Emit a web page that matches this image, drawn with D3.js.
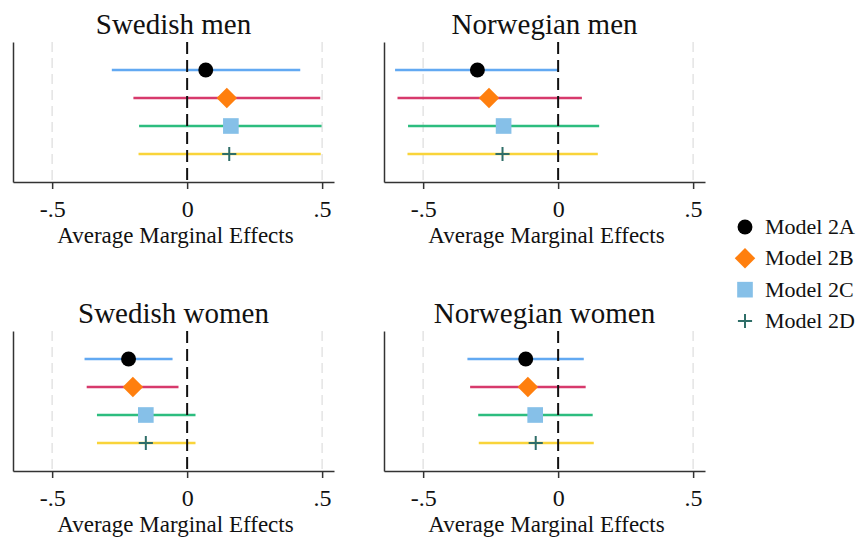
<!DOCTYPE html>
<html>
<head>
<meta charset="utf-8">
<script src="https://cdn.jsdelivr.net/npm/d3@7"></script>
<style>
  body { margin: 0; background: #fff; }
  text { font-family: "Liberation Serif", "Times New Roman", serif; fill: #111; }
</style>
</head>
<body>
<svg width="858" height="538"></svg>
<script>
// Panels, models and the average marginal effects.
var panels = ["Swedish men", "Norwegian men", "Swedish women", "Norwegian women"];
var models = ["Model 2A", "Model 2B", "Model 2C", "Model 2D"];

var swedishMenEst   = [0.069, 0.147, 0.162, 0.156];
var swedishMenLo    = [-0.279, -0.199, -0.178, -0.180];
var swedishMenHi    = [0.419, 0.493, 0.498, 0.495];

var norwegianMenEst = [-0.299, -0.256, -0.202, -0.206];
var norwegianMenLo  = [-0.604, -0.595, -0.556, -0.558];
var norwegianMenHi  = [0.000, 0.088, 0.152, 0.147];

var swedishWomenEst = [-0.217, -0.201, -0.153, -0.153];
var swedishWomenLo  = [-0.380, -0.372, -0.334, -0.334];
var swedishWomenHi  = [-0.054, -0.032, 0.031, 0.031];

var norwegianWomenEst = [-0.120, -0.112, -0.085, -0.083];
var norwegianWomenLo  = [-0.336, -0.326, -0.296, -0.294];
var norwegianWomenHi  = [0.095, 0.102, 0.128, 0.132];

var xTicks = [-0.5, 0, 0.5];
var xTickLabels = ["-.5", "0", ".5"];

var panelData = [
  [swedishMenEst, swedishMenLo, swedishMenHi],
  [norwegianMenEst, norwegianMenLo, norwegianMenHi],
  [swedishWomenEst, swedishWomenLo, swedishWomenHi],
  [norwegianWomenEst, norwegianWomenLo, norwegianWomenHi]
];

var lineColors   = ["#62a9f2", "#d73a6c", "#2dbd7f", "#f9d43a"];
var markerColors = ["#000000", "#ff7f0e", "#86c0e8", "#2f6e68"];

var svg = d3.select("svg");

// plus drawn as thin strokes, like Stata's "+"
var plusType = {
  draw: function(ctx, size) {
    var r = Math.sqrt(size) / 2;
    ctx.moveTo(-r, 0); ctx.lineTo(r, 0);
    ctx.moveTo(0, -r); ctx.lineTo(0, r);
  }
};

function drawMarker(sel, i) {
  if (i === 0) {
    sel.append("path").attr("d", d3.symbol(d3.symbolCircle, 175)())
      .attr("fill", markerColors[0]);
  } else if (i === 1) {
    sel.append("path").attr("d", d3.symbol(d3.symbolSquare, 210)())
      .attr("transform", "rotate(45)")
      .attr("fill", markerColors[1]);
  } else if (i === 2) {
    sel.append("path").attr("d", d3.symbol(d3.symbolSquare, 245)())
      .attr("fill", markerColors[2]);
  } else {
    sel.append("path").attr("d", d3.symbol(plusType, 200)())
      .attr("fill", "none")
      .attr("stroke", markerColors[3])
      .attr("stroke-width", 2);
  }
}

// panel frames
var panelW = 321, plotTop = [42, 331], plotH = 140;
var panelX = [13, 384];

panels.forEach(function(title, p) {
  var col = p % 2, row = Math.floor(p / 2);
  var g = svg.append("g")
      .attr("transform", "translate(" + panelX[col] + "," + plotTop[row] + ")");

  var x = d3.scaleLinear().domain([-0.645, 0.544]).range([0, panelW]);
  var y = d3.scaleLinear().domain([0, 5]).range([0, plotH]);

  var est = panelData[p][0], lo = panelData[p][1], hi = panelData[p][2];

  // title
  g.append("text")
      .attr("x", panelW / 2)
      .attr("y", -8)
      .attr("text-anchor", "middle")
      .style("font-size", "29px")
      .text(title);

  // light grid at -.5 and .5
  g.selectAll(".grid")
      .data([-0.5, 0.5])
      .enter().append("line")
      .attr("x1", function(d) { return x(d); })
      .attr("x2", function(d) { return x(d); })
      .attr("y1", 0)
      .attr("y2", plotH)
      .attr("stroke", "#e4e4e4")
      .attr("stroke-width", 1.5)
      .attr("stroke-dasharray", "10,6");

  // confidence intervals
  g.selectAll(".ci")
      .data(models)
      .enter().append("line")
      .attr("x1", function(d, i) { return x(lo[i]); })
      .attr("x2", function(d, i) { return x(hi[i]); })
      .attr("y1", function(d, i) { return y(i + 1); })
      .attr("y2", function(d, i) { return y(i + 1); })
      .attr("stroke", function(d, i) { return lineColors[i]; })
      .attr("stroke-width", 2.4);

  // zero reference line
  g.append("line")
      .attr("x1", x(0)).attr("x2", x(0))
      .attr("y1", 0).attr("y2", plotH)
      .attr("stroke", "#111")
      .attr("stroke-width", 2)
      .attr("stroke-dasharray", "12,6");

  // point estimates
  models.forEach(function(m, i) {
    var mg = g.append("g")
        .attr("transform", "translate(" + x(est[i]) + "," + y(i + 1) + ")");
    drawMarker(mg, i);
  });

  // axes
  var xAxis = g.append("g")
      .attr("transform", "translate(0," + plotH + ")")
      .call(d3.axisBottom(x)
          .tickValues(xTicks)
          .tickFormat(function(d, i) { return xTickLabels[i]; })
          .tickSize(7)
          .tickSizeOuter(0)
          .tickPadding(11));
  xAxis.select(".domain").attr("stroke", "#333").attr("stroke-width", 1.5);
  xAxis.selectAll(".tick line").attr("stroke", "#333").attr("stroke-width", 1.5);
  xAxis.selectAll(".tick text")
      .style("font-size", "24px")
      .style("font-family", "Liberation Serif, serif")
      .attr("fill", "#111");

  var yAxis = g.append("g")
      .call(d3.axisLeft(y).tickValues([]).tickSizeOuter(0));
  yAxis.select(".domain").attr("stroke", "#333").attr("stroke-width", 1.5);

  g.append("text")
      .attr("x", panelW / 2 + 2)
      .attr("y", plotH + 61)
      .attr("text-anchor", "middle")
      .style("font-size", "23px")
      .text("Average Marginal Effects");
});

// legend
var legendY = d3.scalePoint().domain(models).range([227, 321]);
var legend = svg.append("g");
models.forEach(function(m, i) {
  var lg = legend.append("g")
      .attr("transform", "translate(745," + legendY(m) + ")");
  drawMarker(lg, i);
  lg.append("text")
      .attr("x", 20)
      .attr("y", 7)
      .style("font-size", "22px")
      .text(m);
});
</script>
</body>
</html>
